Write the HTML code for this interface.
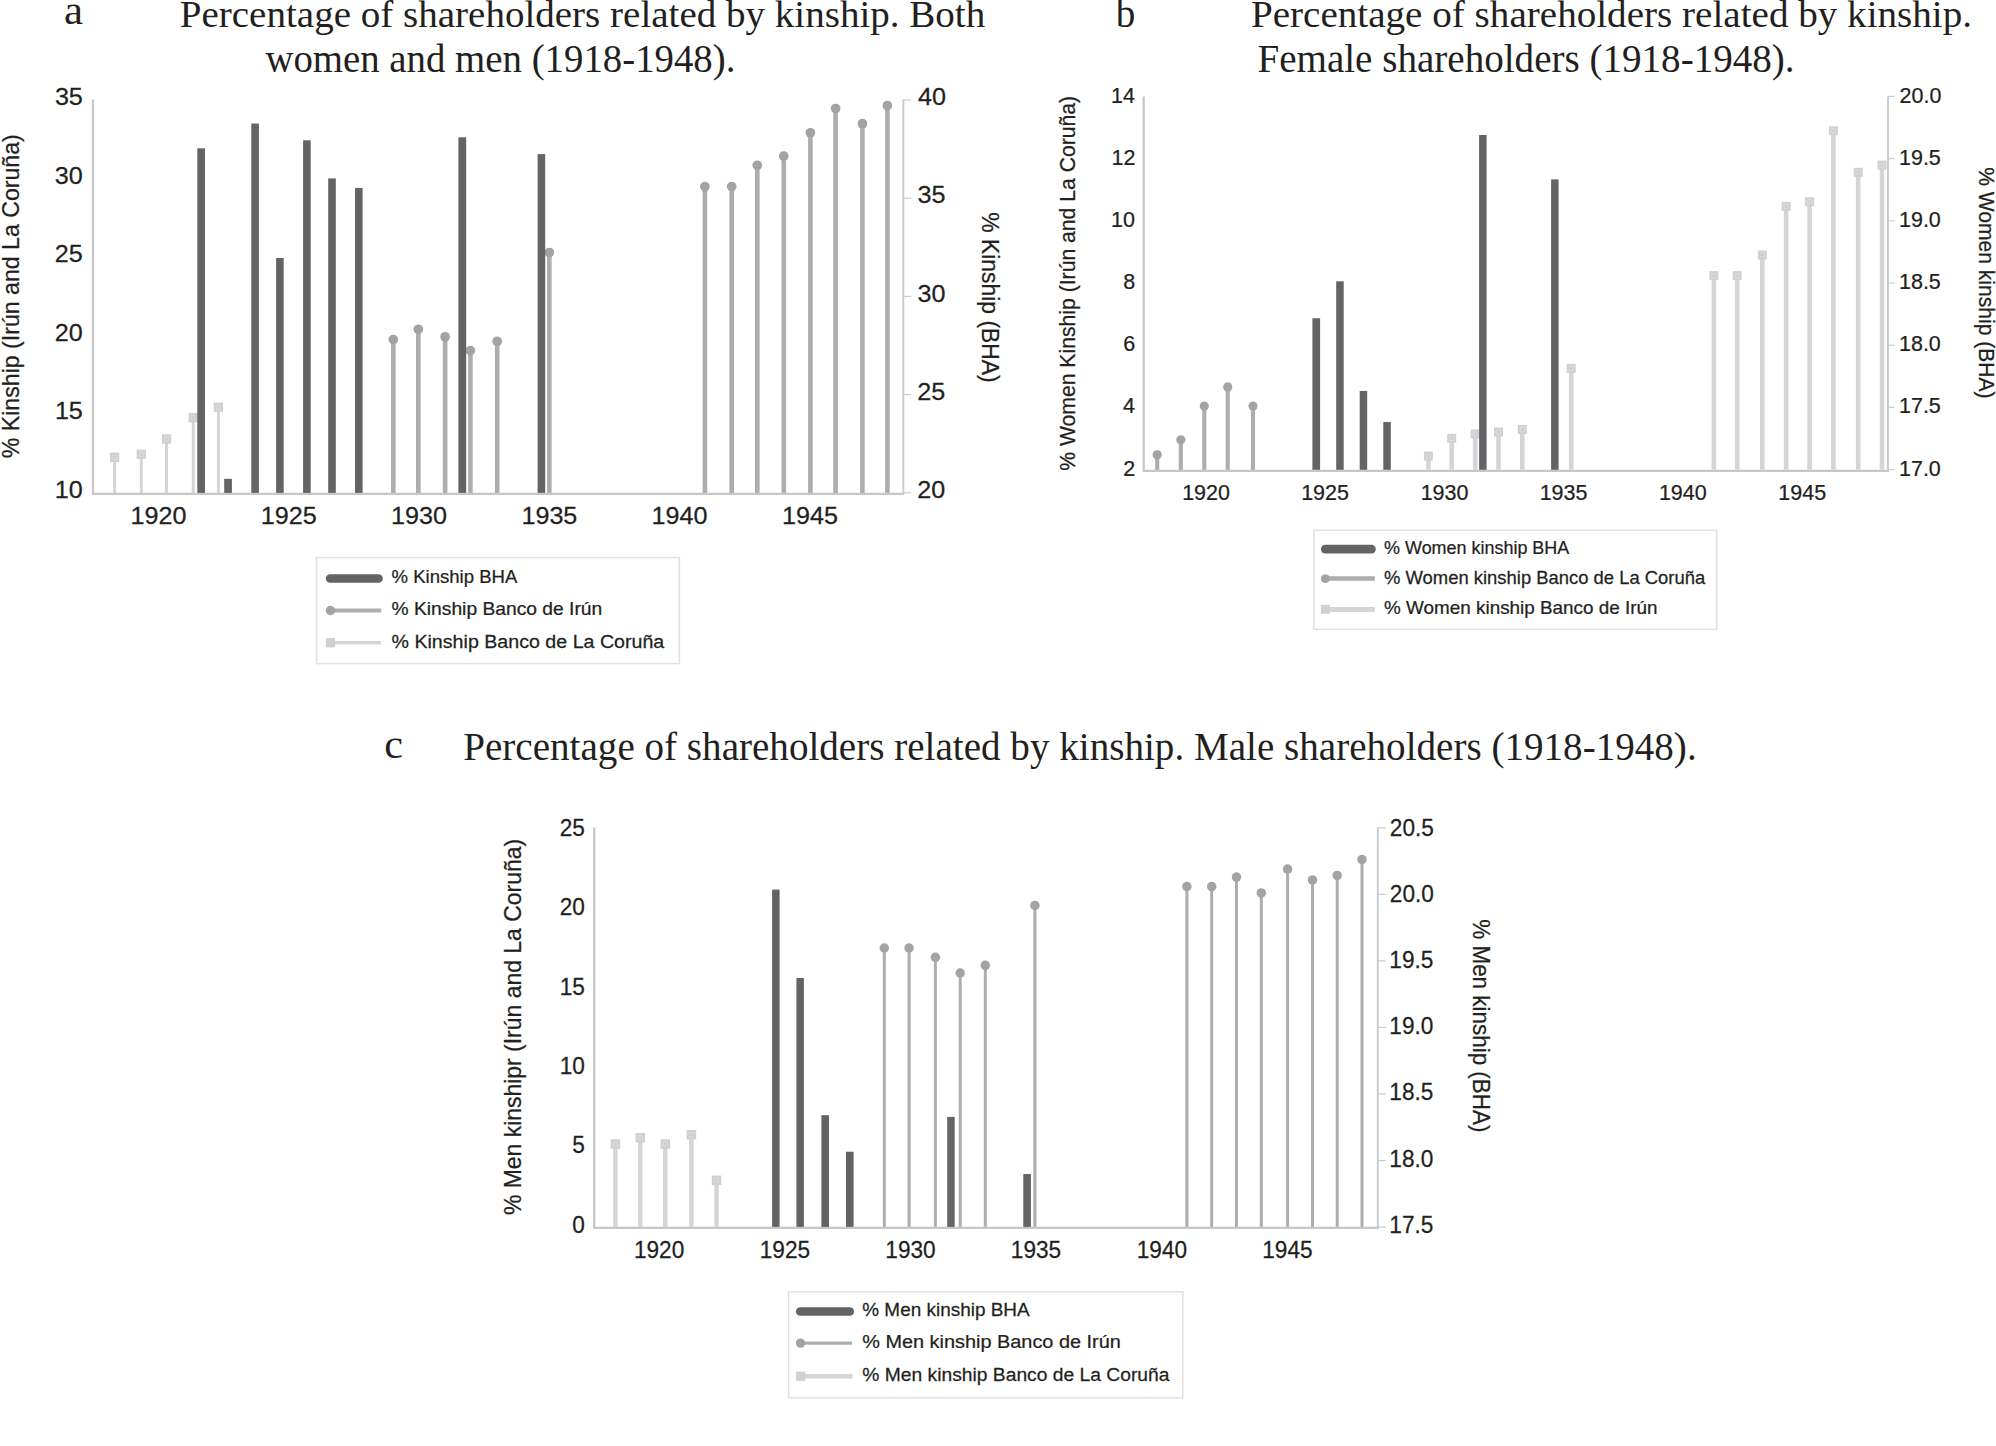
<!DOCTYPE html>
<html lang="en"><head><meta charset="utf-8"><title>Percentage of shareholders related by kinship</title>
<style>
html,body{margin:0;padding:0;background:#fff;}
body{width:1996px;height:1446px;overflow:hidden;}
svg{display:block;}
text{white-space:pre;}
</style></head>
<body>
<svg width="1996" height="1446" viewBox="0 0 1996 1446">
<rect width="1996" height="1446" fill="#fff"/>
<path d="M903.30 99.60V493.90" stroke="#cbccce" stroke-width="2" fill="none"/>
<path d="M903.30 100.00h7.80" stroke="#cbccce" stroke-width="1.2" fill="none"/>
<path d="M903.30 198.20h7.80" stroke="#cbccce" stroke-width="1.2" fill="none"/>
<path d="M903.30 296.40h7.80" stroke="#cbccce" stroke-width="1.2" fill="none"/>
<path d="M903.30 394.60h7.80" stroke="#cbccce" stroke-width="1.2" fill="none"/>
<path d="M903.30 492.80h7.80" stroke="#cbccce" stroke-width="1.2" fill="none"/>
<path d="M93.00 99.60V493.90H904.20" stroke="#c6c7c9" stroke-width="2.2" fill="none"/>
<rect x="113.10" y="457.30" width="3.00" height="35.60" fill="#d4d5d7"/>
<rect x="109.95" y="452.65" width="9.30" height="9.30" fill="#cfd0d2"/>
<rect x="112.50" y="455.20" width="4.2" height="4.2" fill="none" stroke="#dbdcde" stroke-width="0.9"/>
<rect x="139.80" y="454.30" width="3.00" height="38.60" fill="#d4d5d7"/>
<rect x="136.65" y="449.65" width="9.30" height="9.30" fill="#cfd0d2"/>
<rect x="139.20" y="452.20" width="4.2" height="4.2" fill="none" stroke="#dbdcde" stroke-width="0.9"/>
<rect x="165.00" y="439.00" width="3.00" height="53.90" fill="#d4d5d7"/>
<rect x="161.85" y="434.35" width="9.30" height="9.30" fill="#cfd0d2"/>
<rect x="164.40" y="436.90" width="4.2" height="4.2" fill="none" stroke="#dbdcde" stroke-width="0.9"/>
<rect x="191.70" y="417.70" width="3.00" height="75.20" fill="#d4d5d7"/>
<rect x="188.55" y="413.05" width="9.30" height="9.30" fill="#cfd0d2"/>
<rect x="191.10" y="415.60" width="4.2" height="4.2" fill="none" stroke="#dbdcde" stroke-width="0.9"/>
<rect x="216.90" y="407.20" width="3.00" height="85.70" fill="#d4d5d7"/>
<rect x="213.75" y="402.55" width="9.30" height="9.30" fill="#cfd0d2"/>
<rect x="216.30" y="405.10" width="4.2" height="4.2" fill="none" stroke="#dbdcde" stroke-width="0.9"/>
<rect x="391.00" y="339.60" width="4.60" height="153.30" fill="#abadb0"/>
<circle cx="393.30" cy="339.60" r="4.85" fill="#a1a3a6"/>
<rect x="416.00" y="329.30" width="4.60" height="163.60" fill="#abadb0"/>
<circle cx="418.30" cy="329.30" r="4.85" fill="#a1a3a6"/>
<rect x="442.80" y="336.80" width="4.60" height="156.10" fill="#abadb0"/>
<circle cx="445.10" cy="336.80" r="4.85" fill="#a1a3a6"/>
<rect x="468.10" y="350.60" width="4.60" height="142.30" fill="#abadb0"/>
<circle cx="470.40" cy="350.60" r="4.85" fill="#a1a3a6"/>
<rect x="494.90" y="341.30" width="4.60" height="151.60" fill="#abadb0"/>
<circle cx="497.20" cy="341.30" r="4.85" fill="#a1a3a6"/>
<rect x="547.00" y="252.50" width="4.60" height="240.40" fill="#abadb0"/>
<circle cx="549.30" cy="252.50" r="4.85" fill="#a1a3a6"/>
<rect x="702.60" y="186.60" width="4.60" height="306.30" fill="#abadb0"/>
<circle cx="704.90" cy="186.60" r="4.85" fill="#a1a3a6"/>
<rect x="729.40" y="186.60" width="4.60" height="306.30" fill="#abadb0"/>
<circle cx="731.70" cy="186.60" r="4.85" fill="#a1a3a6"/>
<rect x="755.00" y="165.30" width="4.60" height="327.60" fill="#abadb0"/>
<circle cx="757.30" cy="165.30" r="4.85" fill="#a1a3a6"/>
<rect x="781.50" y="156.10" width="4.60" height="336.80" fill="#abadb0"/>
<circle cx="783.80" cy="156.10" r="4.85" fill="#a1a3a6"/>
<rect x="808.10" y="132.80" width="4.60" height="360.10" fill="#abadb0"/>
<circle cx="810.40" cy="132.80" r="4.85" fill="#a1a3a6"/>
<rect x="833.30" y="108.50" width="4.60" height="384.40" fill="#abadb0"/>
<circle cx="835.60" cy="108.50" r="4.85" fill="#a1a3a6"/>
<rect x="860.10" y="123.70" width="4.60" height="369.20" fill="#abadb0"/>
<circle cx="862.40" cy="123.70" r="4.85" fill="#a1a3a6"/>
<rect x="885.10" y="105.50" width="4.60" height="387.40" fill="#abadb0"/>
<circle cx="887.40" cy="105.50" r="4.85" fill="#a1a3a6"/>
<rect x="197.30" y="148.30" width="7.70" height="344.60" fill="#636466"/>
<rect x="224.20" y="478.80" width="7.70" height="14.10" fill="#636466"/>
<rect x="251.30" y="123.50" width="7.60" height="369.40" fill="#636466"/>
<rect x="276.10" y="258.00" width="7.60" height="234.90" fill="#636466"/>
<rect x="303.10" y="140.30" width="7.60" height="352.60" fill="#636466"/>
<rect x="328.20" y="178.40" width="7.60" height="314.50" fill="#636466"/>
<rect x="355.00" y="187.90" width="7.60" height="305.00" fill="#636466"/>
<rect x="458.40" y="137.30" width="7.80" height="355.60" fill="#636466"/>
<rect x="537.60" y="154.10" width="7.60" height="338.80" fill="#636466"/>
<text transform="translate(55.88 105.40) scale(1.0400 1)" x="-0.97" y="0" font-family="Liberation Sans, sans-serif" font-size="24.2" fill="#231f20" stroke="#231f20" stroke-width="0.25">35</text>
<text transform="translate(55.75 183.88) scale(1.0400 1)" x="-0.97" y="0" font-family="Liberation Sans, sans-serif" font-size="24.2" fill="#231f20" stroke="#231f20" stroke-width="0.25">30</text>
<text transform="translate(56.13 262.36) scale(1.0400 1)" x="-1.21" y="0" font-family="Liberation Sans, sans-serif" font-size="24.2" fill="#231f20" stroke="#231f20" stroke-width="0.25">25</text>
<text transform="translate(56.00 340.84) scale(1.0400 1)" x="-1.21" y="0" font-family="Liberation Sans, sans-serif" font-size="24.2" fill="#231f20" stroke="#231f20" stroke-width="0.25">20</text>
<text transform="translate(56.76 419.32) scale(1.0400 1)" x="-1.81" y="0" font-family="Liberation Sans, sans-serif" font-size="24.2" fill="#231f20" stroke="#231f20" stroke-width="0.25">15</text>
<text transform="translate(56.63 497.80) scale(1.0400 1)" x="-1.81" y="0" font-family="Liberation Sans, sans-serif" font-size="24.2" fill="#231f20" stroke="#231f20" stroke-width="0.25">10</text>
<text transform="translate(918.60 105.20) scale(1.0400 1)" x="-0.48" y="0" font-family="Liberation Sans, sans-serif" font-size="24.2" fill="#231f20" stroke="#231f20" stroke-width="0.25">40</text>
<text transform="translate(918.60 203.35) scale(1.0400 1)" x="-0.97" y="0" font-family="Liberation Sans, sans-serif" font-size="24.2" fill="#231f20" stroke="#231f20" stroke-width="0.25">35</text>
<text transform="translate(918.60 301.50) scale(1.0400 1)" x="-0.97" y="0" font-family="Liberation Sans, sans-serif" font-size="24.2" fill="#231f20" stroke="#231f20" stroke-width="0.25">30</text>
<text transform="translate(918.60 399.65) scale(1.0400 1)" x="-1.21" y="0" font-family="Liberation Sans, sans-serif" font-size="24.2" fill="#231f20" stroke="#231f20" stroke-width="0.25">25</text>
<text transform="translate(918.60 497.80) scale(1.0400 1)" x="-1.21" y="0" font-family="Liberation Sans, sans-serif" font-size="24.2" fill="#231f20" stroke="#231f20" stroke-width="0.25">20</text>
<text transform="translate(132.38 523.60) scale(1.0400 1)" x="-1.81" y="0" font-family="Liberation Sans, sans-serif" font-size="24.2" fill="#231f20" stroke="#231f20" stroke-width="0.25">1920</text>
<text transform="translate(262.73 523.60) scale(1.0400 1)" x="-1.81" y="0" font-family="Liberation Sans, sans-serif" font-size="24.2" fill="#231f20" stroke="#231f20" stroke-width="0.25">1925</text>
<text transform="translate(392.94 523.60) scale(1.0400 1)" x="-1.81" y="0" font-family="Liberation Sans, sans-serif" font-size="24.2" fill="#231f20" stroke="#231f20" stroke-width="0.25">1930</text>
<text transform="translate(523.29 523.60) scale(1.0400 1)" x="-1.81" y="0" font-family="Liberation Sans, sans-serif" font-size="24.2" fill="#231f20" stroke="#231f20" stroke-width="0.25">1935</text>
<text transform="translate(653.50 523.60) scale(1.0400 1)" x="-1.81" y="0" font-family="Liberation Sans, sans-serif" font-size="24.2" fill="#231f20" stroke="#231f20" stroke-width="0.25">1940</text>
<text transform="translate(783.85 523.60) scale(1.0400 1)" x="-1.81" y="0" font-family="Liberation Sans, sans-serif" font-size="24.2" fill="#231f20" stroke="#231f20" stroke-width="0.25">1945</text>
<text transform="translate(18.90 457.40) rotate(-90) scale(0.9520 1)" x="-0.85" y="0" font-family="Liberation Sans, sans-serif" font-size="24.3" fill="#231f20" stroke="#231f20" stroke-width="0.25">% Kinship (Irún and La Coruña)</text>
<text transform="translate(982.20 213.10) rotate(90) scale(0.9417 1)" x="-0.85" y="0" font-family="Liberation Sans, sans-serif" font-size="24.3" fill="#231f20" stroke="#231f20" stroke-width="0.25">% Kinship (BHA)</text>
<text transform="translate(65.40 23.50) scale(1.0564 1)" x="-1.42" y="0" font-family="Liberation Serif, serif" font-size="40.5" fill="#231f20">a</text>
<text transform="translate(180.90 27.10) scale(1.0012 1)" x="-1.17" y="0" font-family="Liberation Serif, serif" font-size="39" fill="#231f20">Percentage of shareholders related by kinship. Both</text>
<text transform="translate(265.40 71.80) scale(0.9954 1)" x="-0.00" y="0" font-family="Liberation Serif, serif" font-size="39" fill="#231f20">women and men (1918-1948).</text>
<rect x="316.4" y="557.6" width="363.0" height="106.0" fill="#fff" stroke="#e0e1e2" stroke-width="1.5"/>
<line x1="330.1" y1="578.5" x2="378.5" y2="578.5" stroke="#636466" stroke-width="8.6" stroke-linecap="round"/>
<text transform="translate(392.20 582.90) scale(1.0312 1)" x="-0.63" y="0" font-family="Liberation Sans, sans-serif" font-size="18" fill="#231f20" stroke="#231f20" stroke-width="0.25">% Kinship BHA</text>
<line x1="329.8" y1="610.5" x2="381.2" y2="610.5" stroke="#abadb0" stroke-width="4.0"/>
<circle cx="330.4" cy="610.5" r="4.65" fill="#a1a3a6"/>
<text transform="translate(392.20 615.40) scale(1.0691 1)" x="-0.63" y="0" font-family="Liberation Sans, sans-serif" font-size="18" fill="#231f20" stroke="#231f20" stroke-width="0.25">% Kinship Banco de Irún</text>
<line x1="329.8" y1="642.8" x2="380.8" y2="642.8" stroke="#d4d5d7" stroke-width="3.4"/>
<rect x="325.8" y="638.1" width="9.3" height="9.3" fill="#cfd0d2"/>
<text transform="translate(392.20 647.80) scale(1.0907 1)" x="-0.63" y="0" font-family="Liberation Sans, sans-serif" font-size="18" fill="#231f20" stroke="#231f20" stroke-width="0.25">% Kinship Banco de La Coruña</text>
<path d="M1888.00 96.40V470.80" stroke="#cbccce" stroke-width="2" fill="none"/>
<path d="M1888.00 96.40h6.50" stroke="#cbccce" stroke-width="1.2" fill="none"/>
<path d="M1888.00 158.60h6.50" stroke="#cbccce" stroke-width="1.2" fill="none"/>
<path d="M1888.00 220.80h6.50" stroke="#cbccce" stroke-width="1.2" fill="none"/>
<path d="M1888.00 283.00h6.50" stroke="#cbccce" stroke-width="1.2" fill="none"/>
<path d="M1888.00 345.20h6.50" stroke="#cbccce" stroke-width="1.2" fill="none"/>
<path d="M1888.00 407.40h6.50" stroke="#cbccce" stroke-width="1.2" fill="none"/>
<path d="M1888.00 469.60h6.50" stroke="#cbccce" stroke-width="1.2" fill="none"/>
<path d="M1143.70 96.40V470.80H1888.90" stroke="#c6c7c9" stroke-width="2.2" fill="none"/>
<rect x="1155.15" y="454.80" width="4.10" height="15.00" fill="#abadb0"/>
<circle cx="1157.20" cy="454.80" r="4.60" fill="#a1a3a6"/>
<rect x="1178.75" y="439.80" width="4.10" height="30.00" fill="#abadb0"/>
<circle cx="1180.80" cy="439.80" r="4.60" fill="#a1a3a6"/>
<rect x="1202.25" y="406.00" width="4.10" height="63.80" fill="#abadb0"/>
<circle cx="1204.30" cy="406.00" r="4.60" fill="#a1a3a6"/>
<rect x="1225.65" y="386.90" width="4.10" height="82.90" fill="#abadb0"/>
<circle cx="1227.70" cy="386.90" r="4.60" fill="#a1a3a6"/>
<rect x="1250.95" y="406.00" width="4.10" height="63.80" fill="#abadb0"/>
<circle cx="1253.00" cy="406.00" r="4.60" fill="#a1a3a6"/>
<rect x="1426.10" y="456.10" width="4.60" height="13.70" fill="#d4d5d7"/>
<rect x="1423.90" y="451.60" width="9.00" height="9.00" fill="#cfd0d2"/>
<rect x="1426.30" y="454.00" width="4.2" height="4.2" fill="none" stroke="#dbdcde" stroke-width="0.9"/>
<rect x="1449.40" y="438.30" width="4.60" height="31.50" fill="#d4d5d7"/>
<rect x="1447.20" y="433.80" width="9.00" height="9.00" fill="#cfd0d2"/>
<rect x="1449.60" y="436.20" width="4.2" height="4.2" fill="none" stroke="#dbdcde" stroke-width="0.9"/>
<rect x="1472.90" y="434.00" width="4.60" height="35.80" fill="#d4d5d7"/>
<rect x="1470.70" y="429.50" width="9.00" height="9.00" fill="#cfd0d2"/>
<rect x="1473.10" y="431.90" width="4.2" height="4.2" fill="none" stroke="#dbdcde" stroke-width="0.9"/>
<rect x="1496.20" y="432.00" width="4.60" height="37.80" fill="#d4d5d7"/>
<rect x="1494.00" y="427.50" width="9.00" height="9.00" fill="#cfd0d2"/>
<rect x="1496.40" y="429.90" width="4.2" height="4.2" fill="none" stroke="#dbdcde" stroke-width="0.9"/>
<rect x="1520.00" y="429.50" width="4.60" height="40.30" fill="#d4d5d7"/>
<rect x="1517.80" y="425.00" width="9.00" height="9.00" fill="#cfd0d2"/>
<rect x="1520.20" y="427.40" width="4.2" height="4.2" fill="none" stroke="#dbdcde" stroke-width="0.9"/>
<rect x="1568.90" y="368.40" width="4.60" height="101.40" fill="#d4d5d7"/>
<rect x="1566.70" y="363.90" width="9.00" height="9.00" fill="#cfd0d2"/>
<rect x="1569.10" y="366.30" width="4.2" height="4.2" fill="none" stroke="#dbdcde" stroke-width="0.9"/>
<rect x="1711.60" y="275.60" width="4.60" height="194.20" fill="#d4d5d7"/>
<rect x="1709.40" y="271.10" width="9.00" height="9.00" fill="#cfd0d2"/>
<rect x="1711.80" y="273.50" width="4.2" height="4.2" fill="none" stroke="#dbdcde" stroke-width="0.9"/>
<rect x="1734.90" y="275.60" width="4.60" height="194.20" fill="#d4d5d7"/>
<rect x="1732.70" y="271.10" width="9.00" height="9.00" fill="#cfd0d2"/>
<rect x="1735.10" y="273.50" width="4.2" height="4.2" fill="none" stroke="#dbdcde" stroke-width="0.9"/>
<rect x="1760.00" y="255.00" width="4.60" height="214.80" fill="#d4d5d7"/>
<rect x="1757.80" y="250.50" width="9.00" height="9.00" fill="#cfd0d2"/>
<rect x="1760.20" y="252.90" width="4.2" height="4.2" fill="none" stroke="#dbdcde" stroke-width="0.9"/>
<rect x="1783.80" y="206.40" width="4.60" height="263.40" fill="#d4d5d7"/>
<rect x="1781.60" y="201.90" width="9.00" height="9.00" fill="#cfd0d2"/>
<rect x="1784.00" y="204.30" width="4.2" height="4.2" fill="none" stroke="#dbdcde" stroke-width="0.9"/>
<rect x="1807.30" y="201.70" width="4.60" height="268.10" fill="#d4d5d7"/>
<rect x="1805.10" y="197.20" width="9.00" height="9.00" fill="#cfd0d2"/>
<rect x="1807.50" y="199.60" width="4.2" height="4.2" fill="none" stroke="#dbdcde" stroke-width="0.9"/>
<rect x="1831.10" y="130.80" width="4.60" height="339.00" fill="#d4d5d7"/>
<rect x="1828.90" y="126.30" width="9.00" height="9.00" fill="#cfd0d2"/>
<rect x="1831.30" y="128.70" width="4.2" height="4.2" fill="none" stroke="#dbdcde" stroke-width="0.9"/>
<rect x="1855.90" y="172.30" width="4.60" height="297.50" fill="#d4d5d7"/>
<rect x="1853.70" y="167.80" width="9.00" height="9.00" fill="#cfd0d2"/>
<rect x="1856.10" y="170.20" width="4.2" height="4.2" fill="none" stroke="#dbdcde" stroke-width="0.9"/>
<rect x="1879.70" y="165.10" width="4.60" height="304.70" fill="#d4d5d7"/>
<rect x="1877.50" y="160.60" width="9.00" height="9.00" fill="#cfd0d2"/>
<rect x="1879.90" y="163.00" width="4.2" height="4.2" fill="none" stroke="#dbdcde" stroke-width="0.9"/>
<rect x="1312.40" y="318.30" width="7.70" height="151.50" fill="#636466"/>
<rect x="1336.20" y="281.30" width="7.50" height="188.50" fill="#636466"/>
<rect x="1359.70" y="390.90" width="7.50" height="78.90" fill="#636466"/>
<rect x="1383.30" y="422.00" width="7.50" height="47.80" fill="#636466"/>
<rect x="1479.10" y="135.00" width="7.50" height="334.80" fill="#636466"/>
<rect x="1551.10" y="179.40" width="7.50" height="290.40" fill="#636466"/>
<text transform="translate(1112.61 102.70) scale(0.9900 1)" x="-1.63" y="0" font-family="Liberation Sans, sans-serif" font-size="21.7" fill="#231f20" stroke="#231f20" stroke-width="0.25">14</text>
<text transform="translate(1113.04 164.85) scale(0.9900 1)" x="-1.63" y="0" font-family="Liberation Sans, sans-serif" font-size="21.7" fill="#231f20" stroke="#231f20" stroke-width="0.25">12</text>
<text transform="translate(1112.72 227.00) scale(0.9900 1)" x="-1.63" y="0" font-family="Liberation Sans, sans-serif" font-size="21.7" fill="#231f20" stroke="#231f20" stroke-width="0.25">10</text>
<text transform="translate(1124.10 289.15) scale(0.9900 1)" x="-0.98" y="0" font-family="Liberation Sans, sans-serif" font-size="21.7" fill="#231f20" stroke="#231f20" stroke-width="0.25">8</text>
<text transform="translate(1124.21 351.30) scale(0.9900 1)" x="-1.08" y="0" font-family="Liberation Sans, sans-serif" font-size="21.7" fill="#231f20" stroke="#231f20" stroke-width="0.25">6</text>
<text transform="translate(1123.35 413.45) scale(0.9900 1)" x="-0.43" y="0" font-family="Liberation Sans, sans-serif" font-size="21.7" fill="#231f20" stroke="#231f20" stroke-width="0.25">4</text>
<text transform="translate(1124.43 475.60) scale(0.9900 1)" x="-1.08" y="0" font-family="Liberation Sans, sans-serif" font-size="21.7" fill="#231f20" stroke="#231f20" stroke-width="0.25">2</text>
<text transform="translate(1900.60 102.70) scale(0.9900 1)" x="-1.08" y="0" font-family="Liberation Sans, sans-serif" font-size="21.7" fill="#231f20" stroke="#231f20" stroke-width="0.25">20.0</text>
<text transform="translate(1900.60 164.85) scale(0.9900 1)" x="-1.63" y="0" font-family="Liberation Sans, sans-serif" font-size="21.7" fill="#231f20" stroke="#231f20" stroke-width="0.25">19.5</text>
<text transform="translate(1900.60 227.00) scale(0.9900 1)" x="-1.63" y="0" font-family="Liberation Sans, sans-serif" font-size="21.7" fill="#231f20" stroke="#231f20" stroke-width="0.25">19.0</text>
<text transform="translate(1900.60 289.15) scale(0.9900 1)" x="-1.63" y="0" font-family="Liberation Sans, sans-serif" font-size="21.7" fill="#231f20" stroke="#231f20" stroke-width="0.25">18.5</text>
<text transform="translate(1900.60 351.30) scale(0.9900 1)" x="-1.63" y="0" font-family="Liberation Sans, sans-serif" font-size="21.7" fill="#231f20" stroke="#231f20" stroke-width="0.25">18.0</text>
<text transform="translate(1900.60 413.45) scale(0.9900 1)" x="-1.63" y="0" font-family="Liberation Sans, sans-serif" font-size="21.7" fill="#231f20" stroke="#231f20" stroke-width="0.25">17.5</text>
<text transform="translate(1900.60 475.60) scale(0.9900 1)" x="-1.63" y="0" font-family="Liberation Sans, sans-serif" font-size="21.7" fill="#231f20" stroke="#231f20" stroke-width="0.25">17.0</text>
<text transform="translate(1183.73 499.60) scale(0.9900 1)" x="-1.63" y="0" font-family="Liberation Sans, sans-serif" font-size="21.7" fill="#231f20" stroke="#231f20" stroke-width="0.25">1920</text>
<text transform="translate(1302.74 499.60) scale(0.9900 1)" x="-1.63" y="0" font-family="Liberation Sans, sans-serif" font-size="21.7" fill="#231f20" stroke="#231f20" stroke-width="0.25">1925</text>
<text transform="translate(1422.28 499.60) scale(0.9900 1)" x="-1.63" y="0" font-family="Liberation Sans, sans-serif" font-size="21.7" fill="#231f20" stroke="#231f20" stroke-width="0.25">1930</text>
<text transform="translate(1541.24 499.60) scale(0.9900 1)" x="-1.63" y="0" font-family="Liberation Sans, sans-serif" font-size="21.7" fill="#231f20" stroke="#231f20" stroke-width="0.25">1935</text>
<text transform="translate(1660.48 499.60) scale(0.9900 1)" x="-1.63" y="0" font-family="Liberation Sans, sans-serif" font-size="21.7" fill="#231f20" stroke="#231f20" stroke-width="0.25">1940</text>
<text transform="translate(1779.94 499.60) scale(0.9900 1)" x="-1.63" y="0" font-family="Liberation Sans, sans-serif" font-size="21.7" fill="#231f20" stroke="#231f20" stroke-width="0.25">1945</text>
<text transform="translate(1075.20 470.00) rotate(-90) scale(0.9846 1)" x="-0.75" y="0" font-family="Liberation Sans, sans-serif" font-size="21.5" fill="#231f20" stroke="#231f20" stroke-width="0.25">% Women Kinship (Irún and La Coruña)</text>
<text transform="translate(1978.80 168.00) rotate(90) scale(0.9663 1)" x="-0.76" y="0" font-family="Liberation Sans, sans-serif" font-size="21.8" fill="#231f20" stroke="#231f20" stroke-width="0.25">% Women kinship (BHA)</text>
<text transform="translate(1115.80 27.40) scale(0.9662 1)" x="-0.00" y="0" font-family="Liberation Serif, serif" font-size="40.5" fill="#231f20">b</text>
<text transform="translate(1252.10 27.40) scale(1.0033 1)" x="-1.17" y="0" font-family="Liberation Serif, serif" font-size="39" fill="#231f20">Percentage of shareholders related by kinship.</text>
<text transform="translate(1258.60 71.80) scale(1.0023 1)" x="-1.17" y="0" font-family="Liberation Serif, serif" font-size="39" fill="#231f20">Female shareholders (1918-1948).</text>
<rect x="1314.0" y="530.3" width="402.8" height="99.1" fill="#fff" stroke="#e0e1e2" stroke-width="1.5"/>
<line x1="1325.2" y1="549.1" x2="1371.5" y2="549.1" stroke="#636466" stroke-width="8.6" stroke-linecap="round"/>
<text transform="translate(1384.70 553.80) scale(0.9976 1)" x="-0.63" y="0" font-family="Liberation Sans, sans-serif" font-size="18" fill="#231f20" stroke="#231f20" stroke-width="0.25">% Women kinship BHA</text>
<line x1="1324.9" y1="578.6" x2="1374.8" y2="578.6" stroke="#abadb0" stroke-width="4.5"/>
<circle cx="1325.4" cy="578.6" r="4.45" fill="#a1a3a6"/>
<text transform="translate(1384.70 583.60) scale(1.0239 1)" x="-0.63" y="0" font-family="Liberation Sans, sans-serif" font-size="18" fill="#231f20" stroke="#231f20" stroke-width="0.25">% Women kinship Banco de La Coruña</text>
<line x1="1324.9" y1="609.4" x2="1374.8" y2="609.4" stroke="#d4d5d7" stroke-width="5.0"/>
<rect x="1320.9" y="604.9" width="8.9" height="8.9" fill="#cfd0d2"/>
<text transform="translate(1384.70 614.10) scale(1.0493 1)" x="-0.63" y="0" font-family="Liberation Sans, sans-serif" font-size="18" fill="#231f20" stroke="#231f20" stroke-width="0.25">% Women kinship Banco de Irún</text>
<path d="M1377.80 827.50V1227.90" stroke="#cbccce" stroke-width="2" fill="none"/>
<path d="M1377.80 827.80h8.00" stroke="#cbccce" stroke-width="1.2" fill="none"/>
<path d="M1377.80 894.35h8.00" stroke="#cbccce" stroke-width="1.2" fill="none"/>
<path d="M1377.80 960.90h8.00" stroke="#cbccce" stroke-width="1.2" fill="none"/>
<path d="M1377.80 1027.45h8.00" stroke="#cbccce" stroke-width="1.2" fill="none"/>
<path d="M1377.80 1094.00h8.00" stroke="#cbccce" stroke-width="1.2" fill="none"/>
<path d="M1377.80 1160.55h8.00" stroke="#cbccce" stroke-width="1.2" fill="none"/>
<path d="M1377.80 1227.10h8.00" stroke="#cbccce" stroke-width="1.2" fill="none"/>
<path d="M594.20 827.50V1227.90H1378.70" stroke="#c6c7c9" stroke-width="2.2" fill="none"/>
<rect x="613.15" y="1144.00" width="4.50" height="82.90" fill="#d4d5d7"/>
<rect x="610.65" y="1139.25" width="9.50" height="9.50" fill="#cfd0d2"/>
<rect x="613.30" y="1141.90" width="4.2" height="4.2" fill="none" stroke="#dbdcde" stroke-width="0.9"/>
<rect x="638.05" y="1137.70" width="4.50" height="89.20" fill="#d4d5d7"/>
<rect x="635.55" y="1132.95" width="9.50" height="9.50" fill="#cfd0d2"/>
<rect x="638.20" y="1135.60" width="4.2" height="4.2" fill="none" stroke="#dbdcde" stroke-width="0.9"/>
<rect x="663.05" y="1144.00" width="4.50" height="82.90" fill="#d4d5d7"/>
<rect x="660.55" y="1139.25" width="9.50" height="9.50" fill="#cfd0d2"/>
<rect x="663.20" y="1141.90" width="4.2" height="4.2" fill="none" stroke="#dbdcde" stroke-width="0.9"/>
<rect x="689.15" y="1134.70" width="4.50" height="92.20" fill="#d4d5d7"/>
<rect x="686.65" y="1129.95" width="9.50" height="9.50" fill="#cfd0d2"/>
<rect x="689.30" y="1132.60" width="4.2" height="4.2" fill="none" stroke="#dbdcde" stroke-width="0.9"/>
<rect x="714.25" y="1180.30" width="4.50" height="46.60" fill="#d4d5d7"/>
<rect x="711.75" y="1175.55" width="9.50" height="9.50" fill="#cfd0d2"/>
<rect x="714.40" y="1178.20" width="4.2" height="4.2" fill="none" stroke="#dbdcde" stroke-width="0.9"/>
<rect x="882.80" y="948.00" width="3.00" height="278.90" fill="#abadb0"/>
<circle cx="884.30" cy="948.00" r="4.75" fill="#a1a3a6"/>
<rect x="907.60" y="948.00" width="3.00" height="278.90" fill="#abadb0"/>
<circle cx="909.10" cy="948.00" r="4.75" fill="#a1a3a6"/>
<rect x="933.90" y="957.30" width="3.00" height="269.60" fill="#abadb0"/>
<circle cx="935.40" cy="957.30" r="4.75" fill="#a1a3a6"/>
<rect x="958.70" y="973.00" width="3.00" height="253.90" fill="#abadb0"/>
<circle cx="960.20" cy="973.00" r="4.75" fill="#a1a3a6"/>
<rect x="983.80" y="965.30" width="3.00" height="261.60" fill="#abadb0"/>
<circle cx="985.30" cy="965.30" r="4.75" fill="#a1a3a6"/>
<rect x="1033.40" y="905.40" width="3.00" height="321.50" fill="#abadb0"/>
<circle cx="1034.90" cy="905.40" r="4.75" fill="#a1a3a6"/>
<rect x="1185.40" y="886.60" width="3.00" height="340.30" fill="#abadb0"/>
<circle cx="1186.90" cy="886.60" r="4.75" fill="#a1a3a6"/>
<rect x="1210.20" y="886.60" width="3.00" height="340.30" fill="#abadb0"/>
<circle cx="1211.70" cy="886.60" r="4.75" fill="#a1a3a6"/>
<rect x="1235.00" y="877.10" width="3.00" height="349.80" fill="#abadb0"/>
<circle cx="1236.50" cy="877.10" r="4.75" fill="#a1a3a6"/>
<rect x="1259.80" y="892.90" width="3.00" height="334.00" fill="#abadb0"/>
<circle cx="1261.30" cy="892.90" r="4.75" fill="#a1a3a6"/>
<rect x="1286.10" y="869.10" width="3.00" height="357.80" fill="#abadb0"/>
<circle cx="1287.60" cy="869.10" r="4.75" fill="#a1a3a6"/>
<rect x="1311.00" y="879.90" width="3.00" height="347.00" fill="#abadb0"/>
<circle cx="1312.50" cy="879.90" r="4.75" fill="#a1a3a6"/>
<rect x="1335.70" y="875.40" width="3.00" height="351.50" fill="#abadb0"/>
<circle cx="1337.20" cy="875.40" r="4.75" fill="#a1a3a6"/>
<rect x="1360.50" y="859.60" width="3.00" height="367.30" fill="#abadb0"/>
<circle cx="1362.00" cy="859.60" r="4.75" fill="#a1a3a6"/>
<rect x="772.10" y="889.60" width="7.50" height="337.30" fill="#636466"/>
<rect x="796.40" y="978.00" width="7.50" height="248.90" fill="#636466"/>
<rect x="821.40" y="1115.20" width="7.60" height="111.70" fill="#636466"/>
<rect x="846.00" y="1151.70" width="7.60" height="75.20" fill="#636466"/>
<rect x="947.20" y="1116.90" width="7.50" height="110.00" fill="#636466"/>
<rect x="1023.30" y="1174.00" width="7.60" height="52.90" fill="#636466"/>
<text transform="translate(560.89 835.70) scale(0.9850 1)" x="-1.15" y="0" font-family="Liberation Sans, sans-serif" font-size="23.0" fill="#231f20" stroke="#231f20" stroke-width="0.25">25</text>
<text transform="translate(560.78 915.12) scale(0.9850 1)" x="-1.15" y="0" font-family="Liberation Sans, sans-serif" font-size="23.0" fill="#231f20" stroke="#231f20" stroke-width="0.25">20</text>
<text transform="translate(561.46 994.54) scale(0.9850 1)" x="-1.72" y="0" font-family="Liberation Sans, sans-serif" font-size="23.0" fill="#231f20" stroke="#231f20" stroke-width="0.25">15</text>
<text transform="translate(561.35 1073.96) scale(0.9850 1)" x="-1.72" y="0" font-family="Liberation Sans, sans-serif" font-size="23.0" fill="#231f20" stroke="#231f20" stroke-width="0.25">10</text>
<text transform="translate(573.24 1153.38) scale(0.9850 1)" x="-0.92" y="0" font-family="Liberation Sans, sans-serif" font-size="23.0" fill="#231f20" stroke="#231f20" stroke-width="0.25">5</text>
<text transform="translate(573.13 1232.80) scale(0.9850 1)" x="-0.92" y="0" font-family="Liberation Sans, sans-serif" font-size="23.0" fill="#231f20" stroke="#231f20" stroke-width="0.25">0</text>
<text transform="translate(1391.00 835.70) scale(0.9850 1)" x="-1.15" y="0" font-family="Liberation Sans, sans-serif" font-size="23.0" fill="#231f20" stroke="#231f20" stroke-width="0.25">20.5</text>
<text transform="translate(1391.00 901.88) scale(0.9850 1)" x="-1.15" y="0" font-family="Liberation Sans, sans-serif" font-size="23.0" fill="#231f20" stroke="#231f20" stroke-width="0.25">20.0</text>
<text transform="translate(1391.00 968.07) scale(0.9850 1)" x="-1.72" y="0" font-family="Liberation Sans, sans-serif" font-size="23.0" fill="#231f20" stroke="#231f20" stroke-width="0.25">19.5</text>
<text transform="translate(1391.00 1034.25) scale(0.9850 1)" x="-1.72" y="0" font-family="Liberation Sans, sans-serif" font-size="23.0" fill="#231f20" stroke="#231f20" stroke-width="0.25">19.0</text>
<text transform="translate(1391.00 1100.43) scale(0.9850 1)" x="-1.72" y="0" font-family="Liberation Sans, sans-serif" font-size="23.0" fill="#231f20" stroke="#231f20" stroke-width="0.25">18.5</text>
<text transform="translate(1391.00 1166.62) scale(0.9850 1)" x="-1.72" y="0" font-family="Liberation Sans, sans-serif" font-size="23.0" fill="#231f20" stroke="#231f20" stroke-width="0.25">18.0</text>
<text transform="translate(1391.00 1232.80) scale(0.9850 1)" x="-1.72" y="0" font-family="Liberation Sans, sans-serif" font-size="23.0" fill="#231f20" stroke="#231f20" stroke-width="0.25">17.5</text>
<text transform="translate(635.59 1258.10) scale(0.9850 1)" x="-1.72" y="0" font-family="Liberation Sans, sans-serif" font-size="23.0" fill="#231f20" stroke="#231f20" stroke-width="0.25">1920</text>
<text transform="translate(761.40 1258.10) scale(0.9850 1)" x="-1.72" y="0" font-family="Liberation Sans, sans-serif" font-size="23.0" fill="#231f20" stroke="#231f20" stroke-width="0.25">1925</text>
<text transform="translate(887.04 1258.10) scale(0.9850 1)" x="-1.72" y="0" font-family="Liberation Sans, sans-serif" font-size="23.0" fill="#231f20" stroke="#231f20" stroke-width="0.25">1930</text>
<text transform="translate(1012.50 1258.10) scale(0.9850 1)" x="-1.72" y="0" font-family="Liberation Sans, sans-serif" font-size="23.0" fill="#231f20" stroke="#231f20" stroke-width="0.25">1935</text>
<text transform="translate(1138.44 1258.10) scale(0.9850 1)" x="-1.72" y="0" font-family="Liberation Sans, sans-serif" font-size="23.0" fill="#231f20" stroke="#231f20" stroke-width="0.25">1940</text>
<text transform="translate(1263.90 1258.10) scale(0.9850 1)" x="-1.72" y="0" font-family="Liberation Sans, sans-serif" font-size="23.0" fill="#231f20" stroke="#231f20" stroke-width="0.25">1945</text>
<text transform="translate(521.30 1214.30) rotate(-90) scale(0.9976 1)" x="-0.81" y="0" font-family="Liberation Sans, sans-serif" font-size="23.0" fill="#231f20" stroke="#231f20" stroke-width="0.25">% Men kinshipr (Irún and La Coruña)</text>
<text transform="translate(1473.30 920.10) rotate(90) scale(0.9754 1)" x="-0.81" y="0" font-family="Liberation Sans, sans-serif" font-size="23.0" fill="#231f20" stroke="#231f20" stroke-width="0.25">% Men kinship (BHA)</text>
<text transform="translate(385.80 758.30) scale(1.0403 1)" x="-1.62" y="0" font-family="Liberation Serif, serif" font-size="40.5" fill="#231f20">c</text>
<text transform="translate(464.40 759.80) scale(1.0027 1)" x="-1.17" y="0" font-family="Liberation Serif, serif" font-size="39" fill="#231f20">Percentage of shareholders related by kinship. Male shareholders (1918-1948).</text>
<rect x="788.6" y="1291.8" width="394.2" height="106.0" fill="#fff" stroke="#e0e1e2" stroke-width="1.5"/>
<line x1="800.2" y1="1311.5" x2="849.8" y2="1311.5" stroke="#636466" stroke-width="8.6" stroke-linecap="round"/>
<text transform="translate(862.90 1316.20) scale(0.9970 1)" x="-0.67" y="0" font-family="Liberation Sans, sans-serif" font-size="19" fill="#231f20" stroke="#231f20" stroke-width="0.25">% Men kinship BHA</text>
<line x1="799.9" y1="1343.1" x2="851.9" y2="1343.1" stroke="#abadb0" stroke-width="3.4"/>
<circle cx="800.5" cy="1343.1" r="4.65" fill="#a1a3a6"/>
<text transform="translate(862.90 1348.30) scale(1.0473 1)" x="-0.67" y="0" font-family="Liberation Sans, sans-serif" font-size="19" fill="#231f20" stroke="#231f20" stroke-width="0.25">% Men kinship Banco de Irún</text>
<line x1="799.9" y1="1376.3" x2="852.5" y2="1376.3" stroke="#d4d5d7" stroke-width="4.5"/>
<rect x="795.9" y="1371.6" width="9.3" height="9.3" fill="#cfd0d2"/>
<text transform="translate(862.90 1380.60) scale(1.0143 1)" x="-0.67" y="0" font-family="Liberation Sans, sans-serif" font-size="19" fill="#231f20" stroke="#231f20" stroke-width="0.25">% Men kinship Banco de La Coruña</text>
</svg>
</body></html>
